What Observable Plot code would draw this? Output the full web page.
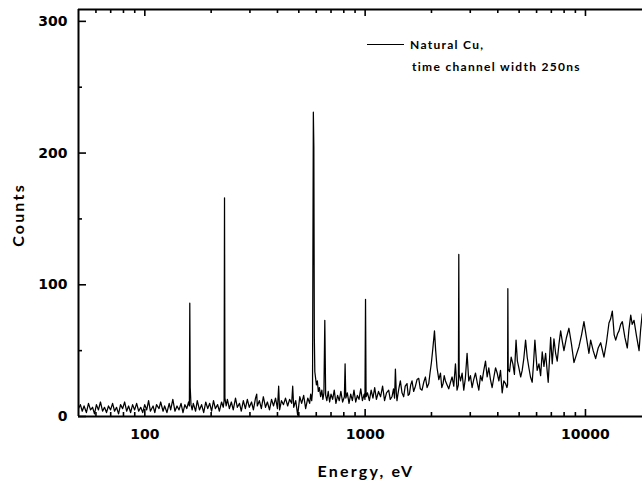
<!DOCTYPE html>
<html>
<head>
<meta charset="utf-8">
<script src="https://cdn.jsdelivr.net/npm/d3@7"></script>
<script src="https://cdn.jsdelivr.net/npm/@observablehq/plot@0.6"></script>
<style>
  html, body { margin: 0; padding: 0; background: white; }
  #wrap { position: relative; width: 642px; height: 482px; overflow: hidden; }
  #overlay { position: absolute; left: 0; top: 0; pointer-events: none; }
  #legline { position: absolute; left: 367px; top: 44px; width: 37px; height: 1.3px; background: black; }
</style>
</head>
<body>
<div id="wrap"><div id="legline"></div></div>
<script>
const energyLow = [50, 51, 52, 53, 54.3, 55.5, 56.7, 57.9, 59.1, 60.3,
  61.6, 62.9, 64.3, 65.6, 67, 68.4, 69.9, 71.4, 72.9, 74.4,
  76, 77.6, 79.3, 81, 82.7, 84.4, 86.2, 88, 89.9, 91.8,
  93.8, 95.8, 97.8, 99.9, 102, 104, 106, 109, 111, 113,
  116, 118, 121, 123, 126, 129, 131, 134, 137, 140,
  143, 146, 149, 152, 155, 158, 159.3, 160, 160.7, 162,
  164, 166, 170, 173, 177, 181, 185, 189, 193, 197,
  201, 205, 209, 214, 218, 223, 227, 229, 230, 231,
  234, 237, 242, 247, 252, 258, 263, 269, 274, 280,
  286, 292, 298, 305, 311, 318, 322, 324, 331, 338,
  345, 353, 360, 368, 376, 384, 392, 400, 405, 409,
  417, 426, 435, 445, 454, 464, 469, 474, 484, 494,
  505, 515, 526, 537, 549, 560];
const countsLow = [6, 9, 4, 8, 3, 10, 5, 7, 2, 9,
  5, 11, 4, 7, 3, 8, 5, 10, 4, 7,
  2, 9, 6, 11, 4, 8, 3, 9, 5, 10,
  4, 7, 3, 9, 5, 12, 4, 8, 3, 9,
  6, 11, 4, 8, 3, 10, 5, 13, 4, 8,
  5, 10, 3, 9, 6, 11, 8, 86, 22, 9,
  5, 10, 4, 12, 5, 9, 3, 11, 6, 10,
  4, 12, 6, 9, 4, 11, 7, 12, 166, 14,
  8, 13, 6, 11, 5, 14, 7, 10, 4, 12,
  6, 13, 7, 11, 5, 14, 17, 8, 12, 6,
  15, 7, 11, 5, 13, 8, 14, 6, 23, 5,
  12, 9, 14, 8, 13, 10, 23, 7, 12, 1,
  15, 10, 16, 6, 14, 10];
const energyMid1 = [566, 572, 577, 579, 582, 585, 588, 591, 596, 601,
  607, 613, 620, 628, 636, 643, 650, 656, 662, 670,
  680, 690, 700, 712, 724, 737, 750, 763, 776, 790,
  805, 811, 817, 830, 845, 860, 875, 890, 906, 922,
  938, 955, 972, 990, 998, 1004, 1010, 1025, 1045, 1065,
  1085, 1105, 1125, 1150, 1175, 1200, 1225, 1250];
const countsMid1 = [17, 12, 19, 110, 231, 205, 60, 34, 29, 24,
  27, 19, 22, 15, 20, 13, 18, 73, 16, 12,
  19, 11, 17, 13, 20, 10, 16, 12, 19, 11,
  15, 40, 14, 18, 10, 17, 12, 20, 11, 16,
  13, 21, 12, 17, 13, 89, 15, 18, 12, 20,
  14, 22, 13, 19, 15, 23, 12, 18];
const energyMid2 = [1279, 1300, 1324, 1345, 1360, 1372, 1385, 1395, 1409, 1425,
  1445, 1470, 1496, 1520, 1549, 1568, 1588, 1610, 1632, 1660,
  1691, 1720, 1751, 1780, 1812, 1845, 1878, 1910, 1944, 1970,
  1999, 2030, 2064, 2090, 2120, 2160, 2197, 2228, 2258, 2285,
  2315, 2355, 2396, 2440, 2481, 2525, 2570, 2613, 2650, 2661,
  2672, 2709, 2755, 2803, 2850, 2902, 2953, 3005, 3058, 3110,
  3169, 3225, 3281, 3340, 3396, 3455, 3518, 3580, 3641, 3705,
  3771, 3840, 3907, 3975, 4045, 4115, 4187, 4260, 4338, 4400,
  4430, 4443, 4460, 4522, 4600, 4683, 4760, 4841, 4910];
const countsMid2 = [20, 13, 15, 21, 14, 36, 18, 12, 17, 22,
  27, 18, 15, 23, 25, 16, 17, 24, 27, 19,
  23, 28, 29, 21, 20, 26, 30, 22, 25, 33,
  41, 52, 65, 50, 37, 28, 33, 22, 25, 31,
  27, 24, 21, 26, 30, 23, 40, 20, 24, 123,
  32, 27, 33, 20, 29, 48, 27, 31, 22, 28,
  33, 26, 20, 31, 27, 35, 42, 30, 37, 28,
  22, 30, 37, 33, 27, 35, 18, 27, 25, 22,
  24, 97, 36, 34, 45, 40, 32, 58, 42];
const energyHigh = [4986, 5080, 5162, 5250, 5348, 5440, 5535, 5630, 5731, 5810,
  5895, 5960, 6038, 6150, 6258, 6364, 6480, 6594, 6690, 6774,
  6860, 6950, 7066, 7193, 7320, 7445, 7580, 7716, 7850, 7986,
  8200, 8413, 8640, 8867, 9100, 9343, 9600, 9843, 10100, 10371,
  10557, 10840, 11123, 11420, 11723, 12134, 12450, 12783, 13000, 13239,
  13500, 13717, 14000, 14200, 14450, 14699, 15100, 15486, 15750, 16050,
  16300, 16612, 17050, 17510, 17800, 18100, 18300];
const countsHigh = [37, 30, 35, 44, 58, 45, 37, 30, 26, 40,
  58, 47, 35, 40, 31, 49, 38, 48, 36, 26,
  42, 60, 40, 59, 48, 42, 55, 65, 57, 50,
  60, 67, 55, 41, 47, 53, 62, 72, 60, 48,
  58, 50, 44, 52, 56, 45, 56, 71, 74, 80,
  62, 58, 63, 65, 70, 72, 60, 52, 66, 77,
  70, 73, 61, 50, 66, 78, 74];

const xMajor = [100, 1000, 10000];
const xMinor = [60, 70, 80, 90, 200, 300, 400, 500, 600, 700, 800, 900,
  2000, 3000, 4000, 5000, 6000, 7000, 8000, 9000];
const yMajor = [0, 100, 200, 300];
const yMinor = [50, 150, 250];
const xDomain = [50, 18150];
const yDomain = [0, 309];

const energy = [...energyLow, ...energyMid1, ...energyMid2, ...energyHigh];
const counts = [...countsLow, ...countsMid1, ...countsMid2, ...countsHigh];
const data = energy.map((e, i) => ({energy: e, counts: counts[i]}));

const W = 642, H = 482, mL = 78, mR = 0, mT = 9, mB = 66;
const frameH = H - mT - mB;
const frameW = W - mL - mR;
const tickW = 1.6;
const pxY = (yDomain[1] - yDomain[0]) / frameH;
const decPerPx = Math.log10(xDomain[1] / xDomain[0]) / frameW;
const yLen = px => px * pxY;
const xLenFactor = px => Math.pow(10, px * decPerPx);

const chart = Plot.plot({
  width: W, height: H,
  marginLeft: mL, marginRight: mR, marginTop: mT, marginBottom: mB,
  x: {type: "log", domain: xDomain},
  y: {domain: yDomain},
  style: {background: "white", color: "black", fontFamily: "'DejaVu Sans', sans-serif", fontSize: "14px", fontWeight: "bold"},
  marks: [
    Plot.line(data, {x: "energy", y: "counts", stroke: "black", strokeWidth: 1.25, clip: true}),
    Plot.axisX({anchor: "bottom", ticks: xMajor, tickSize: 0, tickPadding: 13, tickFormat: d => String(d), label: null}),
    Plot.axisY({anchor: "left", ticks: yMajor, tickSize: 0, tickPadding: 11, tickFormat: d => String(d), label: null}),
    // inward ticks: bottom
    Plot.ruleX(xMajor, {x: d => d, y1: yDomain[0], y2: yDomain[0] + yLen(7), strokeWidth: tickW}),
    Plot.ruleX(xMinor, {x: d => d, y1: yDomain[0], y2: yDomain[0] + yLen(4), strokeWidth: tickW}),
    // inward ticks: top
    Plot.ruleX(xMajor, {x: d => d, y1: yDomain[1], y2: yDomain[1] - yLen(7), strokeWidth: tickW}),
    Plot.ruleX(xMinor, {x: d => d, y1: yDomain[1], y2: yDomain[1] - yLen(4), strokeWidth: tickW}),
    // inward ticks: left
    Plot.ruleY(yMajor, {y: d => d, x1: xDomain[0], x2: xDomain[0] * xLenFactor(8), strokeWidth: tickW}),
    Plot.ruleY(yMinor, {y: d => d, x1: xDomain[0], x2: xDomain[0] * xLenFactor(4), strokeWidth: tickW}),
    // frame (no right edge: the chart is cut off there)
    Plot.ruleX([xDomain[0]], {strokeWidth: 2}),
    Plot.ruleY([yDomain[0]], {strokeWidth: 2}),
    Plot.ruleY([yDomain[1]], {strokeWidth: 2})
  ]
});
const wrap = document.getElementById("wrap");
wrap.insertBefore(chart, wrap.firstChild);

const ns = "http://www.w3.org/2000/svg";
const ov = document.createElementNS(ns, "svg");
ov.setAttribute("id", "overlay");
ov.setAttribute("width", W);
ov.setAttribute("height", H);
function addText(str, x, y, size, spacing, extra) {
  const t = document.createElementNS(ns, "text");
  t.textContent = str;
  t.setAttribute("x", x);
  t.setAttribute("y", y);
  t.setAttribute("font-family", "Lato, 'Open Sans', sans-serif");
  t.setAttribute("font-weight", "bold");
  t.setAttribute("font-size", size);
  t.setAttribute("letter-spacing", spacing);
  t.setAttribute("fill", "black");
  if (extra) for (const k in extra) t.setAttribute(k, extra[k]);
  ov.appendChild(t);
  return t;
}
addText("Energy, eV", 366, 477, 16, 2.2, {"text-anchor": "middle"});
addText("Counts", 0, 0, 16, 2.2, {"text-anchor": "middle", "transform": "translate(24,215) rotate(-90)"});
addText("Natural Cu,", 410, 49, 12, 1.3);
addText("time channel width 250ns", 412, 71, 12, 1.3);
wrap.appendChild(ov);
</script>
</body>
</html>
